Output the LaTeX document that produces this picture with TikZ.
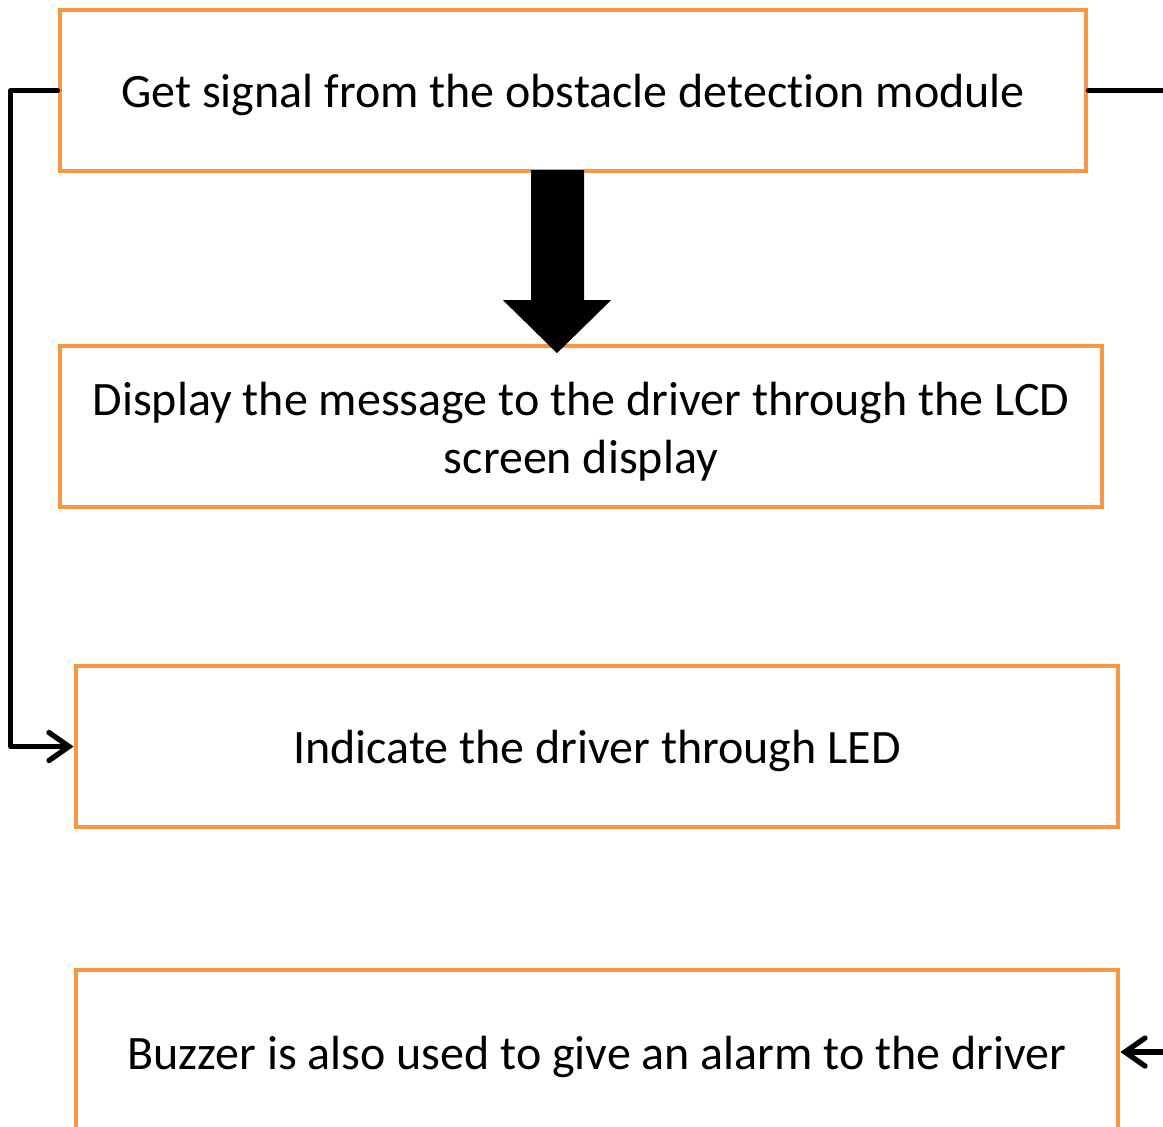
\documentclass[tikz,border=0pt]{standalone}
\usepackage{fontspec}
\setmainfont{Carlito}[Ligatures=NoCommon]
\usetikzlibrary{arrows.meta,positioning,calc}
\definecolor{boxorange}{RGB}{247,150,70}
\newcommand{\stagestrut}{\rule{0pt}{12.2pt}}
\tikzstyle{stage}=[draw=boxorange, line width=1.2pt, align=center, inner sep=0pt, font=\fontsize{13.65pt}{16.6pt}\selectfont, execute at begin node=\stagestrut]
\tikzstyle{conn}=[line width=1.5pt, line cap=round, line join=round, -{Straight Barb[length=2mm, width=2.8mm, line cap=round]}]

\begin{document}
\begin{tikzpicture}[x=0.01cm, y=-0.01cm]
        \useasboundingbox (0,0) rectangle (1163,1126);
        %
        \node at (573,90.5) [stage, minimum width=10.26cm, minimum height=1.61cm] (get) {Get signal from the obstacle detection module};
        \node at (581,426.5) [stage, minimum width=10.42cm, minimum height=1.61cm] (lcd) {\rule{0pt}{12.6pt}Display the message to the driver through the LCD\\screen display};
        \node at (597,746.5) [stage, minimum width=10.42cm, minimum height=1.61cm] (led) {Indicate the driver through LED};
        \node at (597,1052) [stage, minimum width=10.42cm, minimum height=1.64cm] (buzz) {Buzzer is also used to give an alarm to the driver};
        %
        % block arrow from get down to lcd
        \fill[black] ($(get.south)+(-42,-3)$) -- ++(0,130) -- ++(-28,0) -- ++(54,53) -- ++(54,-53) -- ++(-27,0) -- ++(0,-130) -- cycle;
        %
        \draw[conn] (get.west) -- ++(-47,0) |- (led.west);
        \draw[conn] (get.east) -- ++(80,0) |- (buzz.east);
    \end{tikzpicture}
\end{document}
